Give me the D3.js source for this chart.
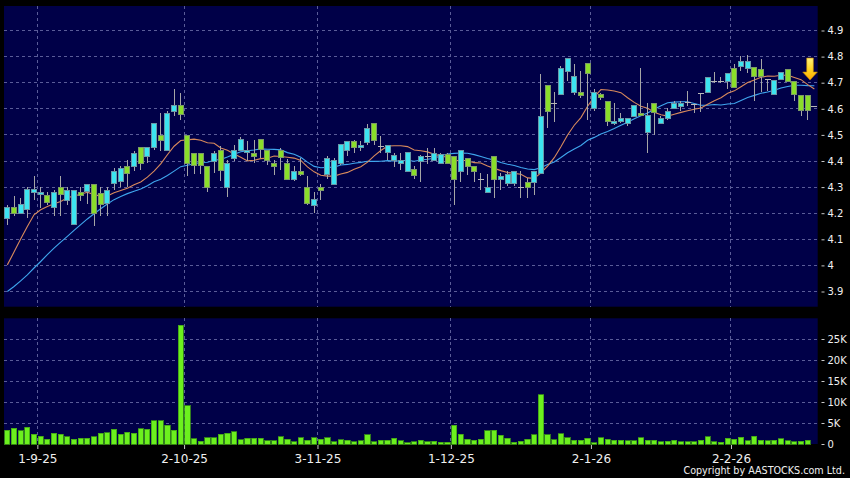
<!DOCTYPE html>
<html><head><meta charset="utf-8">
<script src="https://cdn.jsdelivr.net/npm/d3@7"></script>
<style>html,body{margin:0;padding:0;background:#000;}svg{display:block;}</style>
</head><body>
<svg id="chart" width="850" height="478"></svg>
<script>
// ---- DATA ----
const opens = [4.18,4.22,4.20,4.213,4.28,4.27,4.268,4.22,4.30,4.25,
4.158,4.28,4.283,4.31,4.277,4.238,4.313,4.32,4.38,4.38,
4.45,4.418,4.45,4.498,4.441,4.59,4.612,4.497,4.428,4.428,
4.38,4.399,4.441,4.30,4.411,4.441,4.433,4.43,4.482,4.441,
4.392,4.441,4.392,4.331,4.36,4.30,4.229,4.30,4.35,4.309,
4.392,4.441,4.473,4.45,4.472,4.542,4.456,4.431,4.401,4.392,
4.36,4.369,4.399,4.418,4.401,4.392,4.424,4.418,4.36,4.409,
4.38,4.331,4.281,4.418,4.331,4.313,4.313,4.30,4.318,4.319,
4.354,4.69,4.622,4.654,4.744,4.661,4.661,4.772,4.603,4.654,
4.629,4.543,4.55,4.542,4.571,4.582,4.511,4.622,4.542,4.561,
4.603,4.607,4.626,4.616,4.66,4.661,4.703,4.703,4.703,4.753,
4.761,4.754,4.759,4.75,4.712,4.654,4.712,4.75,4.703,4.652,
4.652,4.61];
const highs = [4.233,4.265,4.26,4.30,4.343,4.30,4.28,4.29,4.343,4.30,
4.29,4.30,4.31,4.31,4.30,4.30,4.373,4.38,4.405,4.437,
4.45,4.45,4.546,4.584,4.593,4.674,4.66,4.497,4.428,4.43,
4.38,4.437,4.456,4.405,4.463,4.491,4.478,4.482,4.482,4.441,
4.405,4.45,4.408,4.38,4.411,4.343,4.283,4.313,4.418,4.411,
4.463,4.478,4.482,4.476,4.542,4.542,4.495,4.463,4.431,4.431,
4.431,4.38,4.424,4.45,4.45,4.431,4.431,4.418,4.441,4.409,
4.38,4.353,4.35,4.418,4.353,4.36,4.36,4.36,4.335,4.36,
4.734,4.69,4.665,4.763,4.791,4.772,4.744,4.772,4.674,4.66,
4.629,4.622,4.584,4.565,4.612,4.757,4.622,4.622,4.571,4.603,
4.629,4.629,4.67,4.62,4.66,4.721,4.74,4.72,4.734,4.772,
4.801,4.807,4.759,4.791,4.712,4.708,4.74,4.75,4.703,4.652,
4.652,4.61];
const lows = [4.156,4.19,4.20,4.18,4.25,4.22,4.232,4.19,4.19,4.23,
4.155,4.245,4.237,4.15,4.19,4.19,4.29,4.30,4.30,4.36,
4.367,4.392,4.443,4.437,4.441,4.571,4.558,4.341,4.35,4.35,
4.28,4.355,4.322,4.262,4.399,4.437,4.399,4.392,4.412,4.386,
4.348,4.364,4.331,4.322,4.341,4.232,4.20,4.251,4.331,4.309,
4.386,4.418,4.431,4.437,4.463,4.463,4.43,4.405,4.376,4.367,
4.36,4.33,4.318,4.388,4.399,4.388,4.388,4.23,4.318,4.348,
4.318,4.287,4.281,4.26,4.287,4.303,4.303,4.26,4.26,4.268,
4.354,4.527,4.55,4.654,4.708,4.654,4.642,4.559,4.591,4.635,
4.533,4.539,4.546,4.533,4.571,4.574,4.431,4.501,4.542,4.559,
4.603,4.59,4.61,4.584,4.588,4.661,4.70,4.70,4.674,4.68,
4.744,4.738,4.629,4.665,4.667,4.654,4.712,4.703,4.629,4.571,
4.559,4.61];
const closes = [4.22,4.20,4.235,4.29,4.29,4.28,4.24,4.28,4.27,4.287,
4.287,4.268,4.31,4.20,4.232,4.287,4.36,4.37,4.352,4.428,
4.392,4.45,4.542,4.478,4.582,4.612,4.58,4.392,4.382,4.382,
4.30,4.428,4.363,4.392,4.441,4.482,4.441,4.418,4.443,4.401,
4.38,4.414,4.331,4.36,4.35,4.236,4.251,4.287,4.411,4.401,
4.463,4.473,4.45,4.46,4.523,4.478,4.456,4.46,4.42,4.401,
4.431,4.344,4.418,4.418,4.428,4.424,4.392,4.331,4.441,4.38,
4.36,4.331,4.30,4.331,4.341,4.35,4.36,4.30,4.30,4.36,
4.571,4.591,4.622,4.753,4.791,4.722,4.652,4.734,4.661,4.642,
4.55,4.552,4.561,4.561,4.612,4.574,4.574,4.584,4.561,4.591,
4.622,4.622,4.626,4.616,4.66,4.721,4.703,4.703,4.734,4.68,
4.782,4.78,4.722,4.722,4.712,4.708,4.74,4.703,4.654,4.593,
4.593,4.61];
// volume in thousands
const volumes = [3.33,3.73,3.17,3.97,2.30,1.90,1.11,2.54,2.38,1.75,
1.19,1.35,1.35,1.75,2.54,2.70,3.49,2.38,2.78,2.54,
3.65,3.57,5.56,5.48,4.44,3.33,28.3,9.05,1.27,0.71,
1.43,1.43,2.30,2.54,2.86,1.03,1.35,1.35,1.35,0.79,
0.79,1.67,1.11,0.56,1.43,0.95,1.43,1.19,1.43,0.56,
1.03,0.95,0.48,0.79,2.22,0.56,0.95,0.87,1.35,0.79,
0.32,0.56,0.95,0.48,0.63,0.40,0.40,4.52,2.30,1.19,
0.95,1.19,3.10,3.25,2.06,1.35,0.40,0.71,1.19,2.22,
11.67,2.22,1.03,2.46,1.43,0.95,0.95,1.35,0.32,1.43,
1.11,0.95,0.95,0.79,0.79,1.43,0.95,0.95,0.48,0.63,
0.95,0.48,0.56,0.56,0.95,1.67,0.56,0.40,1.35,1.11,
1.59,0.79,1.83,0.95,0.79,0.95,1.27,0.79,0.56,0.63,
0.87,0];
// moving-average values before a full window is available
const ma10Lead = [4.002,4.051,4.101,4.149,4.194,4.213,4.226,4.236,4.245];
const ma20Lead = [3.90,3.919,3.941,3.964,3.99,4.015,4.041,4.066,4.089,4.111,
4.134,4.156,4.178,4.198,4.217,4.235,4.252,4.264,4.275];
const priceTicks = [3.9,4.0,4.1,4.2,4.3,4.4,4.5,4.6,4.7,4.8,4.9];
const volumeTicks = [0,5,10,15,20,25];
const dateTickIndex = [5,27,47,67,88,109];
const dateTickLabels = ["1-9-25","2-10-25","3-11-25","1-12-25","2-1-26","2-2-26"];
const arrowPrice = 4.71;

// ---- moving averages ----
function sma(n, lead) {
  return closes.map((c, i) => i < n - 1 ? lead[i] : d3.mean(closes.slice(i - n + 1, i + 1)));
}
const ma10 = sma(10, ma10Lead);
const ma20 = sma(20, ma20Lead);

// ---- layout ----
const svg = d3.select("#chart");
const L = 4, R = 817.7;
const pTop = 6, pBot = 306.7, vTop = 318.3, vBot = 444;
const N = closes.length;

const x = d3.scaleBand().domain(d3.range(N)).range([L, R]);
const cx = i => x(i) + x.bandwidth() / 2;
const xEdge = d3.scaleLinear().domain([0, N]).range([L, R]);
const yP = d3.scaleLinear().domain([3.9, 4.9]).range([291.5, 30.5]);
const yV = d3.scaleLinear().domain([0, 30]).range([vBot, 318]);

svg.append("rect").attr("width", 850).attr("height", 478).attr("fill", "#000");
svg.append("rect").attr("x", L).attr("y", pTop).attr("width", R - L).attr("height", pBot - pTop).attr("fill", "#000048");
svg.append("rect").attr("x", L).attr("y", vTop).attr("width", R - L).attr("height", vBot - vTop).attr("fill", "#000048");

const gridColor = "#5a5c98";
const grid = svg.append("g").attr("stroke", gridColor).attr("stroke-width", 1).attr("stroke-dasharray", "3,3").attr("shape-rendering", "crispEdges");
grid.selectAll(".hp").data(priceTicks).join("line")
  .attr("x1", L).attr("x2", R).attr("y1", d => yP(d)).attr("y2", d => yP(d));
grid.selectAll(".hv").data(volumeTicks.filter(d => d > 0)).join("line").attr("class","hv")
  .attr("x1", L).attr("x2", R).attr("y1", d => yV(d)).attr("y2", d => yV(d));
grid.selectAll(".vp").data(dateTickIndex).join("line").attr("class","vp")
  .attr("x1", d => xEdge(d)).attr("x2", d => xEdge(d)).attr("y1", pTop).attr("y2", pBot);
grid.selectAll(".vv").data(dateTickIndex).join("line").attr("class","vv")
  .attr("x1", d => xEdge(d)).attr("x2", d => xEdge(d)).attr("y1", vTop).attr("y2", vBot);

// ---- moving averages ----
const line = d3.line().x((d, i) => cx(i)).y(d => yP(d));
svg.append("path").datum(ma20).attr("d", line).attr("fill", "none").attr("stroke", "#3fa6ee").attr("stroke-width", 1.1);
svg.append("path").datum(ma10).attr("d", line).attr("fill", "none").attr("stroke", "#d98a5c").attr("stroke-width", 1.1);

// ---- candles ----
const candles = svg.append("g");
const bw = 5;
closes.forEach((c, i) => {
  const o = opens[i], h = highs[i], l = lows[i];
  const g = candles.append("g");
  if (h > l) {
    g.append("line").attr("x1", cx(i)).attr("x2", cx(i)).attr("y1", yP(h)).attr("y2", yP(l))
      .attr("stroke", "#a6a6a6").attr("stroke-width", 1).attr("shape-rendering", "crispEdges");
  }
  if (o === c) {
    g.append("line").attr("x1", cx(i) - bw / 2 - 0.5).attr("x2", cx(i) + bw / 2 + 0.5)
      .attr("y1", yP(c)).attr("y2", yP(c)).attr("stroke", "#b8b8b8").attr("stroke-width", 1)
      .attr("shape-rendering", "crispEdges");
  } else {
    const up = c > o;
    g.append("rect").attr("x", cx(i) - bw / 2).attr("width", bw)
      .attr("y", yP(Math.max(o, c))).attr("height", Math.max(1, yP(Math.min(o, c)) - yP(Math.max(o, c))))
      .attr("fill", up ? "#3ce4f0" : "#8ade2a")
      .attr("stroke", up ? "#6a98a6" : "#7d9a66").attr("stroke-width", 1)
      .attr("shape-rendering", "crispEdges");
  }
});

// ---- arrow ----
const defs = svg.append("defs");
const grad = defs.append("linearGradient").attr("id", "ag").attr("x1", 0).attr("x2", 0).attr("y1", 0).attr("y2", 1);
grad.append("stop").attr("offset", "0%").attr("stop-color", "#fff27a");
grad.append("stop").attr("offset", "55%").attr("stop-color", "#ffd21e");
grad.append("stop").attr("offset", "100%").attr("stop-color", "#ffa800");
const tipX = (cx(N - 2) + cx(N - 1)) / 2 - 1, tipY = yP(arrowPrice);
svg.append("path")
  .attr("d", `M${tipX},${tipY} l-7.3,-8 h4 v-14 h6.6 v14 h4 z`)
  .attr("fill", "url(#ag)").attr("stroke", "#c98a00").attr("stroke-width", 0.6);

// ---- volume bars ----
svg.append("g").selectAll("rect").data(volumes).join("rect")
  .attr("x", (d, i) => cx(i) - 2.6).attr("width", 5.2)
  .attr("y", d => yV(d)).attr("height", d => vBot - yV(d))
  .attr("fill", "#6cf01e").attr("stroke", "#3f9c16").attr("stroke-width", 0.8)
  .attr("shape-rendering", "crispEdges");

// ---- axes ----
const font = "'DejaVu Sans', Verdana, sans-serif";
function styleAxis(g, size) {
  g.select(".domain").remove();
  g.selectAll("line").attr("stroke", "#c8c8c8");
  g.selectAll("text").attr("fill", "#f0f0f0").attr("font-family", font).attr("font-size", size);
}
svg.append("g").attr("transform", `translate(821.5,0)`)
  .call(d3.axisRight(yP).tickValues(priceTicks).tickSize(3).tickPadding(3)
    .tickFormat(d => String(+d.toFixed(1))))
  .call(g => styleAxis(g, "10px"));
svg.append("g").attr("transform", `translate(821.5,0)`)
  .call(d3.axisRight(yV).tickValues(volumeTicks).tickSize(3).tickPadding(3)
    .tickFormat(d => d === 0 ? "0" : d + "K"))
  .call(g => styleAxis(g, "10px"));
svg.append("g").attr("transform", `translate(0,445)`)
  .call(d3.axisBottom(xEdge).tickValues(dateTickIndex).tickSize(4).tickPadding(5)
    .tickFormat((d, i) => dateTickLabels[i]))
  .call(g => styleAxis(g, "12px"));

svg.append("text").attr("x", 845).attr("y", 474).attr("text-anchor", "end")
  .attr("font-family", font).attr("font-size", "9.6px").attr("fill", "#f0f0f0")
  .text("Copyright by AASTOCKS.com Ltd.");
</script>
</body></html>
